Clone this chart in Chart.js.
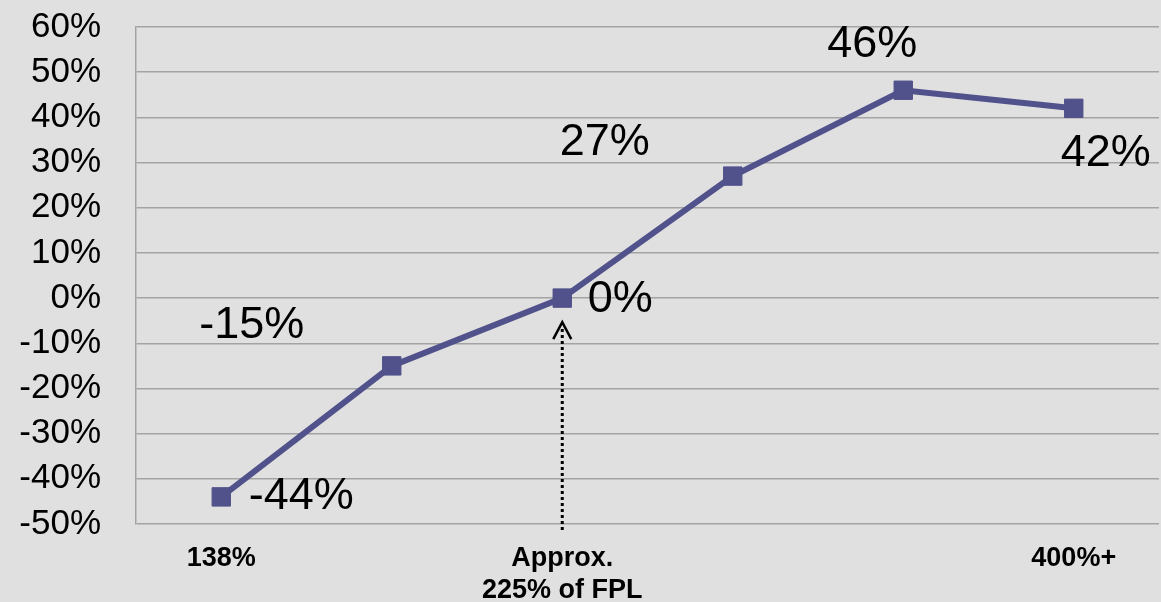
<!DOCTYPE html>
<html>
  <head>
    <script src="https://cdn.jsdelivr.net/npm/chart.js"></script>
    <style>
      html, body { margin: 0; background: #e0e0e0; overflow: hidden; }
      #wrap { width: 1161px; height: 602px; position: relative; }
      canvas { display: block; }
    </style>
  </head>
  <body>
    <div id="wrap"><canvas id="chart"></canvas></div>
    <script>
      // categories (only three carry a visible label)
      var categories = ["138%", "", ["Approx.", "225% of FPL"], "", "", "400%+"];
      var values = [-44, -15, 0, 27, 46, 42];
      var yTicks = { min: -50, max: 60, step: 10 };
      // where each value label sits relative to its point
      var labelOffsets = [[80, 0], [-140, -40], [58, 2], [-128, -34], [-31, -46], [32, 45]];
      var arrowIndex = 2;

      var lineColour = "#51518b";
      var gridColour = "#a3a3a3";
      var fontName = "'Liberation Sans', Arial, sans-serif";

      const valueLabels = {
        id: "valueLabels",
        afterDatasetsDraw(chart) {
          const ctx = chart.ctx;
          const meta = chart.getDatasetMeta(0);
          ctx.save();
          ctx.font = "45px " + fontName;
          ctx.fillStyle = "#000";
          ctx.textAlign = "center";
          ctx.textBaseline = "middle";
          meta.data.forEach(function (pt, i) {
            ctx.fillText(values[i] + "%", pt.x + labelOffsets[i][0], pt.y + labelOffsets[i][1]);
          });
          ctx.restore();
        },
      };

      const fplArrow = {
        id: "fplArrow",
        afterDatasetsDraw(chart) {
          const ctx = chart.ctx;
          const x = chart.scales.x.getPixelForValue(arrowIndex);
          const yTop = chart.scales.y.getPixelForValue(values[arrowIndex]) + 24;
          const yBottom = chart.chartArea.bottom + 6;
          ctx.save();
          ctx.strokeStyle = "#000";
          ctx.lineWidth = 3;
          ctx.setLineDash([3, 3]);
          ctx.beginPath();
          ctx.moveTo(x, yBottom);
          ctx.lineTo(x, yTop + 4);
          ctx.stroke();
          ctx.setLineDash([]);
          ctx.lineWidth = 2.5;
          ctx.beginPath();
          ctx.moveTo(x - 9, yTop + 17);
          ctx.lineTo(x, yTop);
          ctx.lineTo(x + 9, yTop + 17);
          ctx.stroke();
          ctx.restore();
        },
      };

      new Chart(document.getElementById("chart").getContext("2d"), {
        type: "line",
        data: {
          labels: categories,
          datasets: [
            {
              data: values,
              borderColor: lineColour,
              backgroundColor: lineColour,
              borderWidth: 6,
              pointStyle: "rect",
              pointRadius: 13,
              pointBorderWidth: 1,
              tension: 0,
            },
          ],
        },
        options: {
          responsive: true,
          maintainAspectRatio: false,
          animation: false,
          layout: { autoPadding: false, padding: { top: 27, right: 2, left: 0, bottom: 0 } },
          scales: {
            x: {
              offset: true,
              afterFit: function (scale) {
                scale.height = 78;
                scale.paddingLeft = 0;
                scale.paddingRight = 0;
              },
              grid: { display: false, offset: true },
              border: { display: false },
              ticks: {
                autoSkip: false,
                maxRotation: 0,
                padding: 10,
                color: "#000",
                font: { family: fontName, size: 27, weight: "bold", lineHeight: 1.2 },
              },
            },
            y: {
              min: yTicks.min,
              max: yTicks.max,
              afterFit: function (scale) {
                scale.width = 136;
                scale.paddingTop = 0;
                scale.paddingBottom = 0;
              },
              grid: { color: gridColour, lineWidth: 1.5, drawTicks: false },
              border: { display: true, color: gridColour, width: 1.5 },
              ticks: {
                stepSize: yTicks.step,
                autoSkip: false,
                padding: 35,
                color: "#000",
                font: { family: fontName, size: 35, lineHeight: 1 },
                callback: function (v) { return v + "%"; },
              },
            },
          },
          plugins: {
            legend: { display: false },
            tooltip: { enabled: false },
          },
        },
        plugins: [valueLabels, fplArrow],
      });
    </script>
  </body>
</html>
